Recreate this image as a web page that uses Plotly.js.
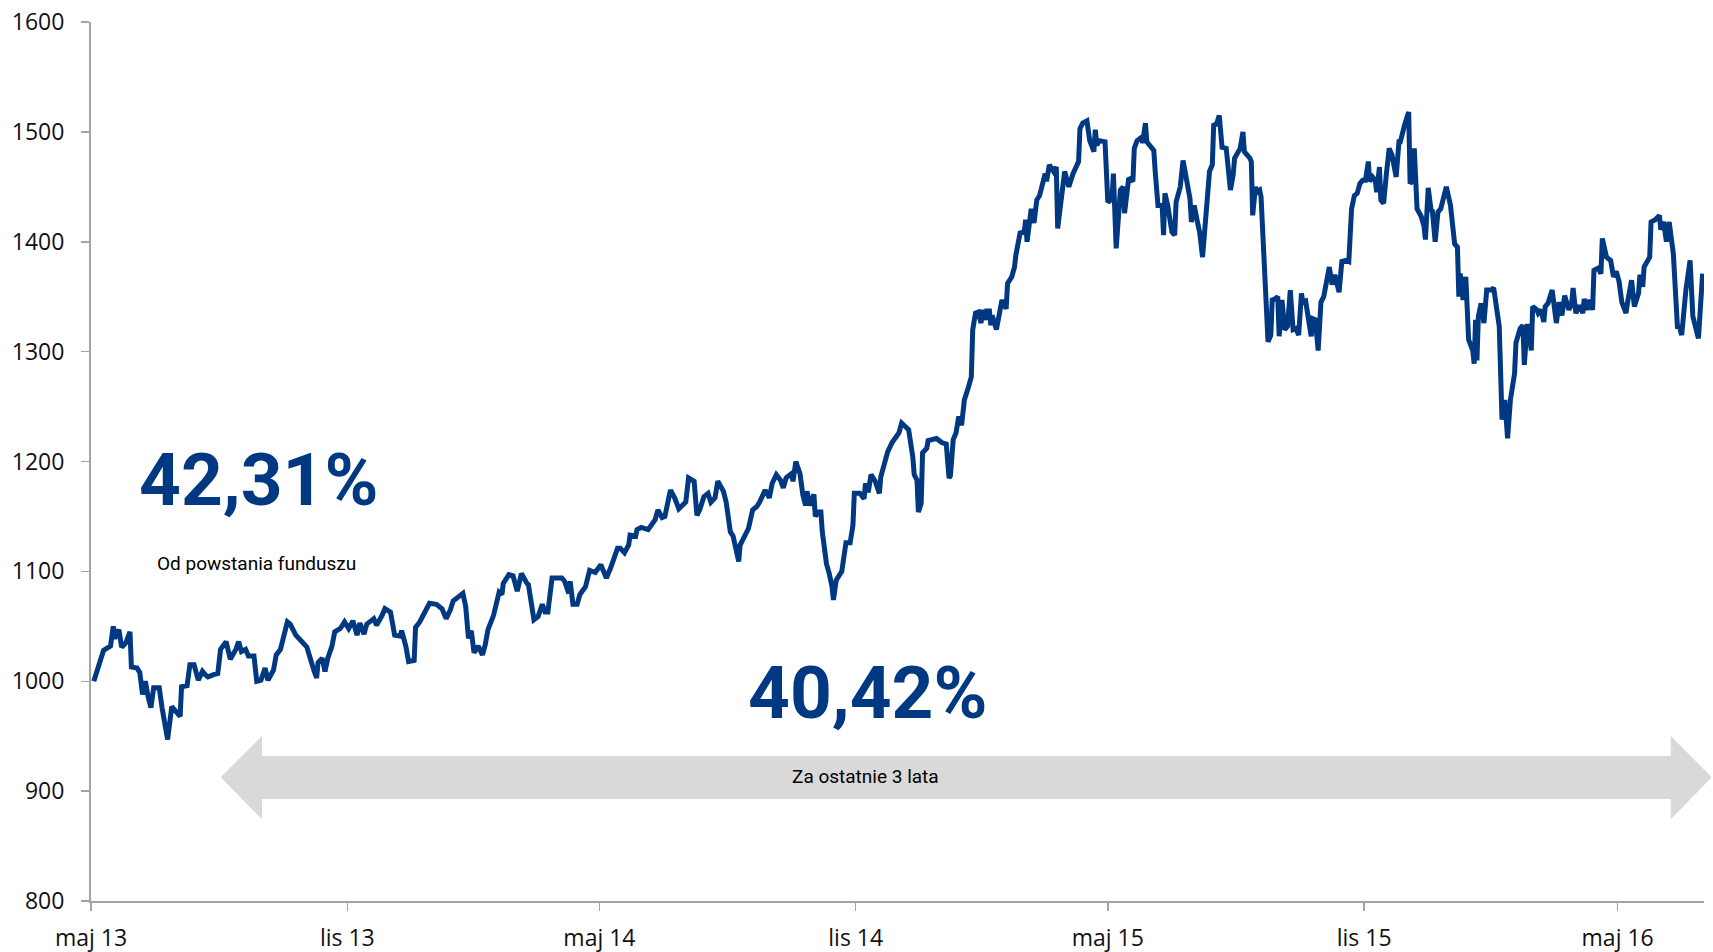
<!DOCTYPE html>
<html>
<head>
<meta charset="utf-8">
<script src="https://cdn.plot.ly/plotly-3.0.1.min.js"></script>
<style>
  html, body { margin: 0; padding: 0; background: #ffffff; }
  #chart { width: 1713px; height: 952px; }
</style>
</head>
<body>
<div id="chart"></div>
<script>
// ---- Data ----
const dates = [
'2013-05-03','2013-05-10','2013-05-15','2013-05-17','2013-05-18','2013-05-21','2013-05-23','2013-05-26','2013-05-29','2013-05-30',
'2013-06-03','2013-06-05','2013-06-07','2013-06-09','2013-06-11','2013-06-13','2013-06-15','2013-06-19','2013-06-21','2013-06-25','2013-06-28',
'2013-07-02','2013-07-04','2013-07-05','2013-07-09','2013-07-11','2013-07-14','2013-07-17','2013-07-20','2013-07-22','2013-07-24','2013-07-28','2013-07-31',
'2013-08-02','2013-08-06','2013-08-09','2013-08-13','2013-08-15','2013-08-17','2013-08-20','2013-08-22','2013-08-26','2013-08-28','2013-08-31',
'2013-09-03','2013-09-05','2013-09-09','2013-09-11','2013-09-14','2013-09-16','2013-09-19','2013-09-21','2013-09-25','2013-09-28',
'2013-10-03','2013-10-08','2013-10-10','2013-10-11','2013-10-14','2013-10-16','2013-10-18','2013-10-21','2013-10-23','2013-10-27','2013-10-30',
'2013-11-02','2013-11-05','2013-11-08','2013-11-10','2013-11-13','2013-11-15','2013-11-20','2013-11-22','2013-11-26','2013-11-28',
'2013-12-02','2013-12-05','2013-12-09','2013-12-10','2013-12-13','2013-12-15','2013-12-19','2013-12-20','2013-12-23','2013-12-26','2013-12-30',
'2014-01-04','2014-01-08','2014-01-11','2014-01-14','2014-01-16','2014-01-21','2014-01-23','2014-01-25','2014-01-27','2014-01-29','2014-01-31',
'2014-02-03','2014-02-06','2014-02-08','2014-02-10','2014-02-14','2014-02-18','2014-02-20','2014-02-21','2014-02-25','2014-02-28',
'2014-03-03','2014-03-06','2014-03-10','2014-03-11','2014-03-15','2014-03-18','2014-03-21','2014-03-23','2014-03-25','2014-03-28','2014-03-31',
'2014-04-04','2014-04-06','2014-04-09','2014-04-10','2014-04-12','2014-04-15','2014-04-17','2014-04-21','2014-04-24','2014-04-28',
'2014-05-02','2014-05-06','2014-05-09','2014-05-14','2014-05-16','2014-05-19','2014-05-22','2014-05-23','2014-05-27','2014-05-28','2014-05-31',
'2014-06-05','2014-06-10','2014-06-12','2014-06-15','2014-06-17','2014-06-19','2014-06-21','2014-06-24','2014-06-27',
'2014-07-02','2014-07-04','2014-07-08','2014-07-10','2014-07-12','2014-07-15','2014-07-18','2014-07-20','2014-07-23','2014-07-25','2014-07-29','2014-07-31',
'2014-08-03','2014-08-05','2014-08-06','2014-08-09','2014-08-10','2014-08-14','2014-08-16','2014-08-19','2014-08-22','2014-08-24','2014-08-28','2014-08-31',
'2014-09-02','2014-09-05','2014-09-08','2014-09-10','2014-09-12','2014-09-16','2014-09-17','2014-09-19','2014-09-22','2014-09-24','2014-09-26','2014-09-27','2014-09-29',
'2014-10-02','2014-10-03','2014-10-05','2014-10-07','2014-10-08','2014-10-11','2014-10-13','2014-10-15','2014-10-16','2014-10-18','2014-10-22','2014-10-23','2014-10-25','2014-10-28','2014-10-30','2014-10-31',
'2014-11-04','2014-11-07','2014-11-08','2014-11-10','2014-11-12','2014-11-15','2014-11-18','2014-11-19','2014-11-22','2014-11-24','2014-11-27','2014-11-29',
'2014-12-02','2014-12-04','2014-12-09','2014-12-12','2014-12-13','2014-12-15','2014-12-16','2014-12-18','2014-12-19','2014-12-22','2014-12-23','2014-12-29',
'2015-01-02','2015-01-05','2015-01-07','2015-01-08','2015-01-10','2015-01-12','2015-01-14','2015-01-16','2015-01-18','2015-01-21','2015-01-23','2015-01-24','2015-01-26','2015-01-28','2015-01-30','2015-01-31',
'2015-02-02','2015-02-03','2015-02-05','2015-02-06','2015-02-07','2015-02-10','2015-02-13','2015-02-14','2015-02-17','2015-02-18','2015-02-21','2015-02-23','2015-02-24','2015-02-27',
'2015-03-02','2015-03-03','2015-03-04','2015-03-07','2015-03-09','2015-03-11','2015-03-13','2015-03-16','2015-03-17','2015-03-18','2015-03-20','2015-03-23','2015-03-25','2015-03-26','2015-03-29','2015-03-31',
'2015-04-03','2015-04-06','2015-04-10','2015-04-11','2015-04-13','2015-04-16','2015-04-18','2015-04-21','2015-04-22','2015-04-23','2015-04-25','2015-04-29',
'2015-05-01','2015-05-04','2015-05-05','2015-05-07','2015-05-10','2015-05-12','2015-05-13','2015-05-16','2015-05-19','2015-05-20','2015-05-22','2015-05-25','2015-05-26','2015-05-28','2015-05-29',
'2015-06-01','2015-06-03','2015-06-04','2015-06-06','2015-06-09','2015-06-10','2015-06-11','2015-06-13','2015-06-16','2015-06-18','2015-06-19','2015-06-22','2015-06-24','2015-06-27','2015-06-29','2015-06-30',
'2015-07-02','2015-07-04','2015-07-06','2015-07-08','2015-07-10','2015-07-12','2015-07-13','2015-07-15','2015-07-16','2015-07-18','2015-07-20','2015-07-22','2015-07-25','2015-07-28','2015-07-30','2015-07-31',
'2015-08-04','2015-08-06','2015-08-07','2015-08-11','2015-08-12','2015-08-13','2015-08-15','2015-08-16','2015-08-18','2015-08-19','2015-08-21','2015-08-24','2015-08-26','2015-08-27','2015-08-29','2015-08-31',
'2015-09-01','2015-09-03','2015-09-05','2015-09-07','2015-09-09','2015-09-11','2015-09-13','2015-09-15','2015-09-17','2015-09-18','2015-09-20','2015-09-22','2015-09-24','2015-09-25','2015-09-27','2015-09-29',
'2015-10-01','2015-10-03','2015-10-07','2015-10-09','2015-10-11','2015-10-14','2015-10-16','2015-10-19','2015-10-21','2015-10-23','2015-10-25','2015-10-27','2015-10-29','2015-10-31',
'2015-11-02','2015-11-04','2015-11-05','2015-11-07','2015-11-09','2015-11-10','2015-11-12','2015-11-13','2015-11-15','2015-11-17','2015-11-19','2015-11-21','2015-11-24','2015-11-26','2015-11-27','2015-11-30',
'2015-12-03','2015-12-04','2015-12-06','2015-12-07','2015-12-08','2015-12-09','2015-12-12','2015-12-14','2015-12-15','2015-12-17','2015-12-19','2015-12-20','2015-12-22','2015-12-24','2015-12-26','2015-12-29','2015-12-30',
'2016-01-02','2016-01-05','2016-01-07','2016-01-08','2016-01-09','2016-01-11','2016-01-13','2016-01-14','2016-01-15','2016-01-18','2016-01-19','2016-01-20','2016-01-21','2016-01-22','2016-01-24','2016-01-26','2016-01-28','2016-01-31',
'2016-02-02','2016-02-06','2016-02-08','2016-02-10','2016-02-12','2016-02-14','2016-02-16','2016-02-17','2016-02-18','2016-02-21','2016-02-23','2016-02-24','2016-02-26','2016-02-27','2016-02-29',
'2016-03-01','2016-03-04','2016-03-05','2016-03-07','2016-03-09','2016-03-10','2016-03-12','2016-03-15','2016-03-18','2016-03-20','2016-03-22','2016-03-24','2016-03-27','2016-03-29','2016-03-30',
'2016-04-01','2016-04-04','2016-04-06','2016-04-07','2016-04-09','2016-04-11','2016-04-13','2016-04-14','2016-04-17','2016-04-19','2016-04-20','2016-04-22','2016-04-23','2016-04-26','2016-04-28','2016-04-30',
'2016-05-02','2016-05-04','2016-05-07','2016-05-08','2016-05-11','2016-05-13','2016-05-16','2016-05-17','2016-05-19','2016-05-20','2016-05-24','2016-05-25','2016-05-28','2016-05-31',
'2016-06-01','2016-06-03','2016-06-05','2016-06-07','2016-06-10','2016-06-13','2016-06-14','2016-06-16','2016-06-19','2016-06-22','2016-06-24','2016-06-28','2016-07-01'
];

const values = [
1000,1028,1032,1050,1039,1047,1031,1035,1045,1013,
1012,1008,988,1000,986,976,994,994,976,947,977,
972,968,995,996,1015,1015,1001,1009,1006,1004,1006,1007,
1029,1036,1020,1029,1036,1027,1029,1023,1023,1000,1001,
1012,1001,1010,1024,1029,1039,1054,1052,1042,1038,
1031,1010,1003,1017,1021,1009,1021,1032,1045,1048,1054,
1048,1055,1042,1053,1043,1052,1057,1051,1060,1066,
1063,1042,1041,1046,1032,1018,1019,1049,1054,1062,1071,
1070,1066,1057,1065,1073,1079,1080,1068,1039,1046,1026,
1032,1024,1033,1047,1060,1081,1079,1089,1097,1096,
1082,1098,1089,1088,1056,1059,1070,1063,1063,1094,1094,
1094,1091,1080,1091,1070,1070,1079,1086,1101,1099,
1106,1094,1103,1121,1121,1117,1124,1133,1132,1138,1140,
1138,1147,1156,1149,1150,1163,1174,1167,1157,
1163,1185,1182,1151,1156,1168,1171,1163,1167,1182,1173,1163,
1136,1132,1126,1109,1124,1135,1139,1156,1159,1163,1174,1167,
1180,1188,1183,1176,1185,1189,1182,1200,1189,1170,1160,1173,1160,
1170,1150,1154,1154,1136,1107,1098,1086,1074,1092,1100,1110,1126,1126,1142,1171,
1171,1166,1180,1172,1188,1182,1171,1186,1198,1209,1217,1221,
1226,1235,1229,1204,1188,1183,1154,1162,1208,1212,1219,1221,
1217,1216,1185,1187,1220,1226,1241,1233,1256,1268,1277,1320,1335,1336,1326,1338,
1329,1337,1337,1324,1333,1320,1345,1347,1339,1362,1368,1377,1388,1408,
1409,1420,1400,1430,1417,1438,1442,1461,1462,1455,1470,1464,1468,1412,1442,1464,
1450,1462,1473,1503,1508,1510,1492,1482,1502,1488,1492,1491,
1436,1439,1462,1394,1447,1450,1426,1458,1455,1485,1492,1495,1490,1508,1491,
1486,1483,1464,1433,1433,1406,1444,1433,1409,1406,1436,1450,1474,1455,1439,1418,
1433,1420,1408,1386,1423,1447,1464,1470,1506,1507,1515,1486,1485,1447,1461,1476,
1485,1500,1482,1476,1473,1424,1450,1445,1447,1441,1389,1309,1315,1347,1348,1350,
1314,1347,1320,1323,1356,1320,1321,1315,1353,1345,1346,1330,1314,1330,1329,1301,
1345,1350,1377,1361,1370,1354,1382,1383,1382,1430,1442,1444,1453,1456,
1456,1473,1455,1459,1456,1445,1468,1438,1435,1462,1485,1479,1459,1491,1491,1506,
1518,1453,1456,1485,1456,1430,1423,1414,1402,1449,1429,1428,1400,1427,1430,1444,1450,
1433,1398,1395,1350,1371,1347,1368,1326,1311,1301,1289,1329,1292,1332,1344,1326,1356,1356,
1358,1323,1238,1256,1221,1256,1277,1280,1308,1321,1324,1288,1323,1323,1301,
1341,1338,1335,1338,1327,1341,1344,1356,1326,1345,1333,1351,1338,1344,1358,
1335,1342,1335,1348,1338,1347,1338,1374,1376,1371,1403,1392,1386,1383,1368,1373,
1364,1345,1335,1344,1365,1341,1353,1370,1359,1377,1386,1418,1420,1424,
1411,1418,1400,1418,1389,1321,1324,1315,1356,1383,1332,1312,1371
];

const tickDates = ['2013-05-01','2013-11-01','2014-05-01','2014-11-01','2015-05-01','2015-11-01','2016-05-01'];
const tickLabels = ['maj 13','lis 13','maj 14','lis 14','maj 15','lis 15','maj 16'];

const sinceStartText = '42,31%';
const sinceStartLabel = 'Od powstania funduszu';
const threeYearText = '40,42%';
const threeYearLabel = 'Za ostatnie 3 lata';

// ---- Styles ----
const BLUE = '#003882';
const AXIS = '#a3a3a3';
const TICKFONT = {family: '"Open Sans", "Liberation Sans", sans-serif', size: 23, color: '#111111'};

const trace = {
  type: 'scatter',
  mode: 'lines',
  x: dates,
  y: values,
  line: {color: BLUE, width: 5, shape: 'linear'},
  hoverinfo: 'skip',
  showlegend: false
};

// arrow geometry in paper coordinates
const arrowPath = 'M 0.0804 0.1408 L 0.1060 0.1877 L 0.1060 0.1650 L 0.9794 0.1650 L 0.9794 0.1877 ' +
                  'L 1.0048 0.1408 L 0.9794 0.0929 L 0.9794 0.1160 L 0.1060 0.1160 L 0.1060 0.0929 Z';

const layout = {
  width: 1713,
  height: 952,
  margin: {l: 91, r: 9, t: 22, b: 51, pad: 0},
  paper_bgcolor: '#ffffff',
  plot_bgcolor: '#ffffff',
  showlegend: false,
  xaxis: {
    type: 'date',
    range: ['2013-05-01', '2016-07-02'],
    tickmode: 'array',
    tickvals: tickDates,
    ticktext: tickLabels,
    showgrid: false,
    zeroline: false,
    showline: true,
    linecolor: AXIS,
    linewidth: 2,
    ticks: 'outside',
    ticklen: 8,
    tickwidth: 1.5,
    tickcolor: AXIS,
    tickfont: TICKFONT,
    ticklabelstandoff: 7
  },
  yaxis: {
    range: [800, 1600],
    tickmode: 'linear',
    tick0: 800,
    dtick: 100,
    showgrid: false,
    zeroline: false,
    showline: true,
    linecolor: AXIS,
    linewidth: 2,
    ticks: 'outside',
    ticklen: 8,
    tickwidth: 1.5,
    tickcolor: AXIS,
    tickfont: TICKFONT,
    ticklabelstandoff: 12
  },
  shapes: [
    {type: 'path', xref: 'paper', yref: 'paper', path: arrowPath,
     fillcolor: '#d9d9d9', line: {width: 0}, layer: 'below'}
  ],
  annotations: [
    {xref: 'paper', yref: 'paper', x: 0.1040, y: 0.479, xanchor: 'center', yanchor: 'middle',
     text: '<b>' + sinceStartText + '</b>', showarrow: false,
     font: {family: 'Roboto, "Open Sans", sans-serif', size: 73, color: BLUE}},
    {xref: 'paper', yref: 'paper', x: 0.1029, y: 0.3845, xanchor: 'center', yanchor: 'middle',
     text: sinceStartLabel, showarrow: false,
     font: {family: 'Roboto, "Open Sans", sans-serif', size: 19, color: '#000000'}},
    {xref: 'paper', yref: 'paper', x: 0.4812, y: 0.2372, xanchor: 'center', yanchor: 'middle',
     text: '<b>' + threeYearText + '</b>', showarrow: false,
     font: {family: 'Roboto, "Open Sans", sans-serif', size: 73, color: BLUE}},
    {xref: 'paper', yref: 'paper', x: 0.4799, y: 0.1411, xanchor: 'center', yanchor: 'middle',
     text: threeYearLabel, showarrow: false,
     font: {family: 'Roboto, "Open Sans", sans-serif', size: 19, color: '#000000'}}
  ]
};

Plotly.newPlot('chart', [trace], layout, {staticPlot: true, displayModeBar: false});
</script>
</body>
</html>
